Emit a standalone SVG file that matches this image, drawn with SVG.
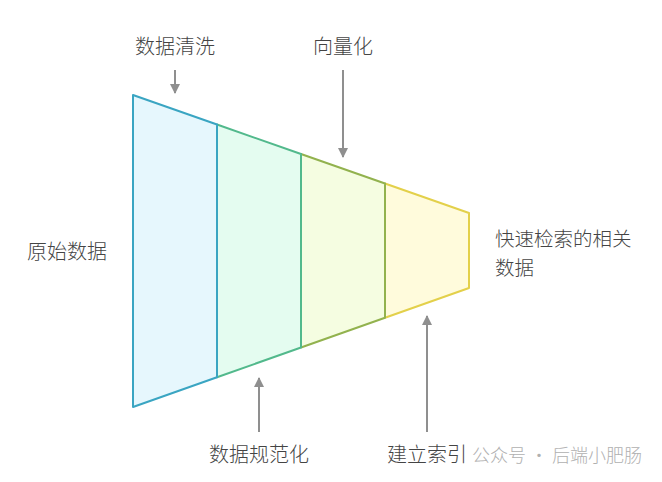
<svg xmlns="http://www.w3.org/2000/svg" width="662" height="482" viewBox="0 0 662 482">
<style>
.lbl{font-family:"Noto Sans CJK SC","Noto Sans",sans-serif;font-size:20px;font-weight:300;fill:#444;}
.res{font-size:19.5px;}
.wm{font-family:"Noto Sans CJK SC","Noto Sans",sans-serif;font-size:18px;font-weight:300;fill:#b0b0b0;}
.arr{stroke:#8f8f8f;stroke-width:2;fill:none;marker-end:url(#ah);}
.seg{stroke-width:2;stroke-linejoin:round;}
</style>
<defs>
<marker id="ah" viewBox="0 0 10 10" refX="9" refY="5" markerWidth="5" markerHeight="5" orient="auto" markerUnits="strokeWidth">
<path d="M0,0 L10,5 L0,10 z" fill="#8f8f8f"/>
</marker>
</defs>
<rect width="662" height="482" fill="#ffffff"/>
<g id="seg4"><polygon class="seg" points="385,183.5 469,213 469,288 385,317.8" fill="#fffbdc" stroke="#e3d04a"/></g>
<g id="seg3"><polygon class="seg" points="301,154 385,183.5 385,317.8 301,347.5" fill="#f5fde1" stroke="#92b24e"/></g>
<g id="seg2"><polygon class="seg" points="217,124.5 301,154 301,347.5 217,377.3" fill="#e4fcf0" stroke="#52b98c"/></g>
<g id="seg1"><polygon class="seg" points="133,95 217,124.5 217,377.3 133,407" fill="#e6f7fd" stroke="#3aa5c2"/></g>
<g id="connectors">
<line class="arr" x1="175" y1="70" x2="175" y2="93"/>
<line class="arr" x1="343" y1="70" x2="343" y2="157"/>
<line class="arr" x1="259" y1="432" x2="259" y2="378"/>
<line class="arr" x1="427" y1="432" x2="427" y2="316"/>
</g>
<g id="label-clean"><text class="lbl" x="175" y="54" text-anchor="middle">数据清洗</text></g>
<g id="label-vector"><text class="lbl" x="343" y="54" text-anchor="middle">向量化</text></g>
<g id="label-norm"><text class="lbl" x="259" y="462" text-anchor="middle">数据规范化</text></g>
<g id="label-index"><text class="lbl" x="387" y="462">建立索引</text></g>
<g id="label-raw"><text class="lbl" x="27" y="259">原始数据</text></g>
<g id="label-result"><text class="lbl res" x="495" y="246">快速检索的相关</text><text class="lbl res" x="495" y="275">数据</text></g>
<text class="wm" x="472" y="462">公众号 · 后端小肥肠</text>
</svg>
